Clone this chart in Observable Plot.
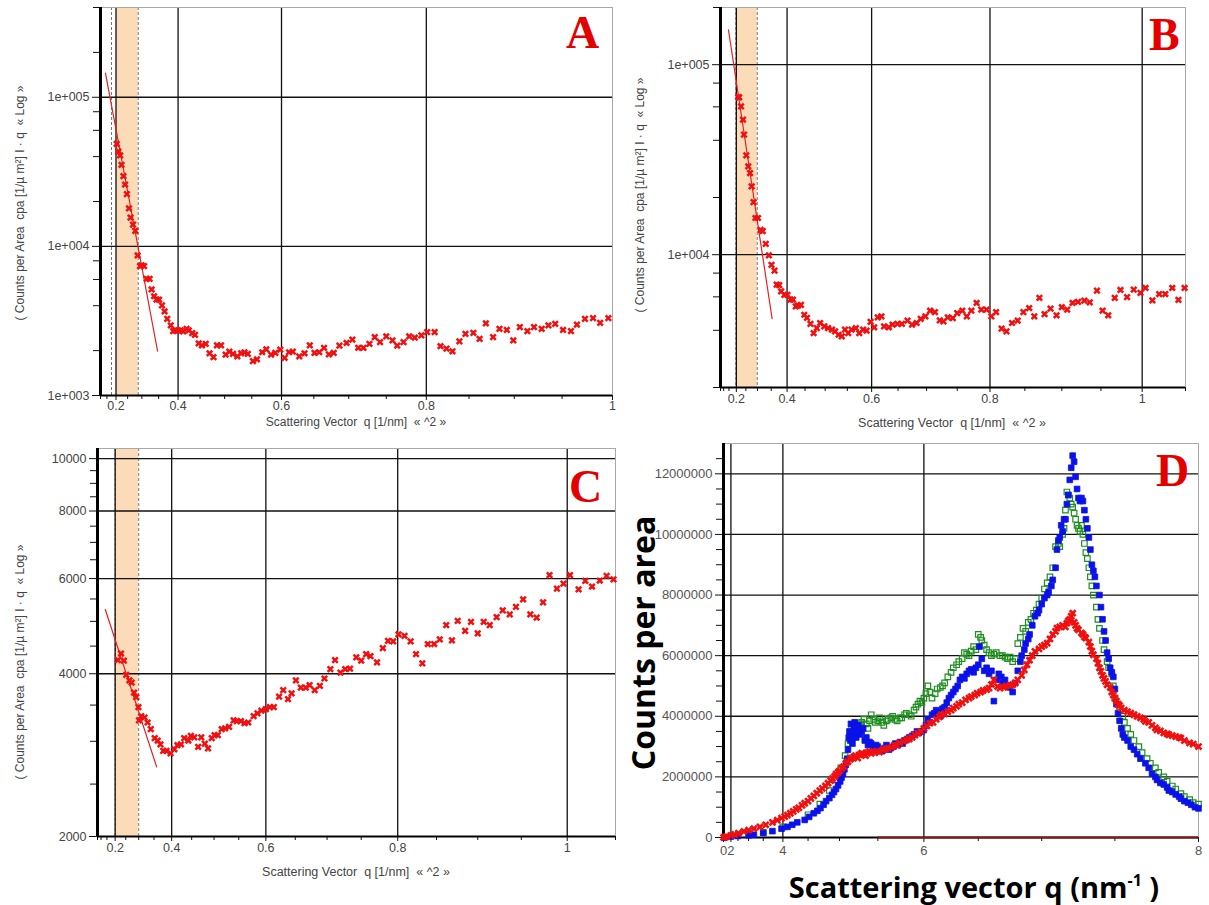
<!DOCTYPE html>
<html><head><meta charset="utf-8">
<script src="https://cdn.jsdelivr.net/npm/d3@7"></script>
<script src="https://cdn.jsdelivr.net/npm/@observablehq/plot@0.6"></script>
<style>
body{margin:0;background:#fff;}
#root{position:relative;width:1209px;height:905px;overflow:hidden;background:#fff;font-family:"Liberation Sans",Arial,sans-serif;}
.panel{position:absolute;overflow:hidden;background:#fff;}
.panel svg{position:absolute;left:0;top:0;}
.t{position:absolute;white-space:nowrap;line-height:1;transform:translate(-50%,-50%);color:#444;font-size:12.5px;}
.rot{position:absolute;white-space:nowrap;line-height:1;transform:translate(-50%,-50%) rotate(-90deg);color:#444;font-size:12px;}
.letter{position:absolute;font-family:"Liberation Serif",serif;font-weight:bold;color:#e50000;font-size:46px;line-height:1;}
.big{position:absolute;white-space:nowrap;line-height:1;font-family:"Open Sans",sans-serif;font-weight:bold;color:#000;}
</style></head>
<body><div id="root"></div>
<script>
// ---------- Panel A ----------
const qA = [0.203,0.211,0.219,0.225,0.233,0.240,0.247,0.255,0.261,0.270,0.278,0.286,0.294,0.299,0.307,0.315,0.324,0.330,0.337,0.344,0.351,0.359,0.366,0.373,0.382,0.388,0.394,0.400,0.406,0.412,0.420,0.425,0.433,0.439,0.447,0.454,0.462,0.470,0.478,0.485,0.493,0.502,0.509,0.516,0.524,0.531,0.537,0.543,0.552,0.559,0.568,0.575,0.583,0.590,0.598,0.605,0.612,0.618,0.628,0.636,0.644,0.651,0.658,0.665,0.672,0.679,0.687,0.697,0.705,0.713,0.720,0.728,0.735,0.742,0.750,0.758,0.764,0.772,0.779,0.786,0.794,0.801,0.810,0.817,0.824,0.831,0.839,0.846,0.855,0.862,0.869,0.877,0.884,0.892,0.899,0.906,0.914,0.921,0.929,0.936,0.943,0.951,0.959,0.965,0.973,0.981,0.988,0.996];
const cpaA = [48700,43300,40700,35200,29600,26000,22400,18000,15600,14000,12700,8690,7370,7450,7370,6060,6060,5140,4630,4400,4400,4020,3660,3270,2950,2700,2730,2730,2730,2690,2800,2730,2620,2550,2240,2170,2220,1920,1810,2170,2170,1880,1970,1900,1830,1920,1950,1900,1700,1750,1950,2040,1880,1930,2030,1790,1950,1970,1830,1920,2170,1930,1950,2090,1890,1930,2160,2250,2370,2090,2090,2220,2460,2280,2490,2340,2160,2280,2490,2440,2530,2660,2660,2140,2060,1980,2310,2590,2630,2400,3050,2460,2800,2750,2340,2870,2700,2870,2800,2950,3020,2750,2700,2990,3260,3300,3070,3300];
const fitA_q = [0.14, 0.347];
const fitA_v = [145000, 1980];
const bandA = [0.2, 0.288];
const dashA = [0.177, 0.288];

// ---------- Panel B ----------
const qB = [0.211,0.216,0.226,0.236,0.241,0.252,0.261,0.269,0.276,0.284,0.292,0.302,0.312,0.320,0.331,0.342,0.351,0.361,0.368,0.376,0.382,0.392,0.401,0.410,0.417,0.425,0.431,0.439,0.448,0.455,0.464,0.472,0.480,0.488,0.498,0.507,0.516,0.523,0.531,0.538,0.545,0.552,0.559,0.568,0.575,0.583,0.590,0.598,0.605,0.612,0.619,0.624,0.633,0.640,0.649,0.657,0.667,0.675,0.683,0.690,0.698,0.706,0.714,0.722,0.728,0.735,0.743,0.750,0.758,0.765,0.772,0.780,0.787,0.795,0.802,0.809,0.817,0.824,0.832,0.840,0.848,0.856,0.863,0.870,0.877,0.885,0.893,0.900,0.907,0.914,0.921,0.929,0.936,0.945,0.952,0.959,0.967,0.974,0.982,0.990,0.998,1.004,1.012,1.020,1.027,1.035,1.042,1.049];
const cpaB = [67600,67300,60400,51400,42900,33300,29200,26900,22900,18900,15600,15600,13500,13300,11400,9910,8850,8240,6950,6910,6410,6150,6150,5800,5800,5340,5400,5450,4830,4650,4320,3870,4110,4370,4190,4110,4030,3950,3790,3720,4030,3870,4030,4110,3870,4030,3980,4430,4150,4680,4730,4200,4150,4290,4320,4320,4500,4290,4370,4600,4730,5070,4990,4510,4460,4680,4640,4930,5070,4730,5070,5570,5140,5140,4730,4990,4080,3950,4370,4500,4990,5240,4730,5920,4870,5200,4800,5290,5140,5570,5640,5730,5610,6470,5070,4800,5920,6520,5980,6550,6290,6680,5750,6210,6210,6680,5790,6680];
const fitB_q = [0.146, 0.353];
const fitB_v = [152700, 4600];
const bandB = [0.2, 0.299];
const dashB = [0.197, 0.299];

// ---------- Panel C ----------
const qC = [0.214,0.229,0.242,0.252,0.265,0.274,0.283,0.291,0.299,0.301,0.309,0.320,0.330,0.340,0.352,0.361,0.369,0.377,0.386,0.397,0.407,0.415,0.424,0.432,0.442,0.448,0.456,0.465,0.472,0.480,0.487,0.495,0.501,0.508,0.516,0.523,0.531,0.540,0.546,0.554,0.561,0.568,0.578,0.585,0.592,0.600,0.607,0.614,0.623,0.630,0.638,0.644,0.651,0.659,0.667,0.673,0.681,0.689,0.696,0.705,0.712,0.720,0.727,0.734,0.743,0.750,0.757,0.763,0.772,0.780,0.787,0.794,0.801,0.809,0.817,0.824,0.832,0.839,0.847,0.854,0.862,0.869,0.876,0.885,0.892,0.900,0.907,0.914,0.922,0.929,0.937,0.944,0.952,0.960,0.967,0.974,0.981,0.989,0.996,1.003,1.012,1.019,1.026,1.034,1.041,1.048];
const cpaC = [4240,4360,4230,3980,3890,3850,3690,3620,3470,3280,3340,3320,3250,3160,3040,3010,2960,2880,2880,2850,2900,2950,2960,3040,3010,3070,3050,2930,3050,2970,2910,3040,3080,3080,3160,3170,3190,3280,3270,3270,3240,3250,3340,3380,3420,3440,3470,3470,3630,3730,3590,3680,3890,3770,3770,3810,3730,3800,3920,4080,4240,4020,4080,4090,4290,4230,4350,4310,4200,4460,4600,4590,4730,4700,4590,4350,4180,4540,4540,4630,4920,4610,5010,4800,4990,4750,4990,4920,5090,5240,5150,5320,5490,5150,5080,5420,6090,5750,5870,6090,5730,5940,5800,5950,6070,5980];
const fitC_q = [0.138, 0.358];
const fitC_v = [5260, 2690];
const bandC = [0.2, 0.300];
const dashC = [0.2, 0.300];

// ---------- Panel D (counts per area, in millions) ----------
const qD_red = [0.5,1.0,1.5,2.0,2.3,2.52,2.8,3.0,3.2,3.4,3.57,3.75,3.87,3.97,4.04,4.1,4.16,4.22,4.28,4.33,4.39,4.44,4.5,4.55,4.6,4.65,4.7,4.74,4.79,4.83,4.87,4.9,4.93,4.95,4.98,5.0,5.03,5.06,5.09,5.12,5.15,5.17,5.2,5.22,5.25,5.27,5.3,5.32,5.35,5.37,5.4,5.42,5.46,5.49,5.52,5.56,5.59,5.62,5.66,5.69,5.72,5.75,5.79,5.82,5.85,5.88,5.91,5.94,5.97,6.0,6.03,6.06,6.09,6.12,6.15,6.17,6.2,6.23,6.26,6.28,6.31,6.33,6.36,6.39,6.42,6.44,6.47,6.49,6.52,6.54,6.57,6.59,6.61,6.63,6.66,6.68,6.71,6.73,6.76,6.78,6.8,6.82,6.85,6.87,6.89,6.91,6.93,6.95,6.98,7.0,7.02,7.04,7.06,7.08,7.1,7.11,7.13,7.15,7.17,7.18,7.19,7.2,7.21,7.22,7.23,7.24,7.25,7.26,7.28,7.29,7.3,7.31,7.33,7.34,7.35,7.36,7.38,7.39,7.4,7.41,7.42,7.43,7.44,7.45,7.47,7.48,7.49,7.5,7.51,7.52,7.53,7.54,7.56,7.58,7.6,7.62,7.64,7.66,7.68,7.69,7.71,7.73,7.75,7.76,7.78,7.8,7.82,7.83,7.85,7.87,7.89,7.9,7.92,7.95,7.97,8.0];
const mD_red = [0.0,0.01,0.03,0.07,0.10,0.14,0.2,0.24,0.29,0.35,0.42,0.5,0.57,0.64,0.69,0.74,0.8,0.86,0.93,0.98,1.06,1.13,1.2,1.29,1.37,1.46,1.55,1.62,1.7,1.79,1.88,1.95,2.02,2.09,2.15,2.2,2.28,2.34,2.45,2.5,2.58,2.62,2.66,2.7,2.62,2.73,2.78,2.75,2.7,2.8,2.84,2.78,2.8,2.85,2.82,2.89,2.92,2.95,2.98,3.06,3.04,3.12,3.17,3.22,3.25,3.3,3.38,3.44,3.5,3.6,3.68,3.77,3.8,3.9,3.98,4.05,4.08,4.15,4.2,4.27,4.33,4.4,4.45,4.54,4.6,4.65,4.7,4.76,4.8,4.85,4.88,4.93,5.05,5.2,4.98,4.93,4.95,5.0,5.02,5.04,5.1,5.2,5.35,5.53,5.7,5.85,6.0,6.14,6.22,6.3,6.35,6.41,6.55,6.7,6.8,6.91,6.95,7.0,6.95,7.07,7.15,7.2,7.3,7.4,7.1,7.0,6.9,6.85,6.75,6.7,6.62,6.58,6.45,6.3,6.15,6.03,5.9,5.75,5.6,5.48,5.35,5.25,5.15,5.04,4.95,4.8,4.7,4.6,4.5,4.4,4.35,4.27,4.2,4.15,4.1,4.05,4.0,3.95,3.9,3.83,3.8,3.7,3.62,3.55,3.52,3.45,3.42,3.39,3.36,3.33,3.3,3.28,3.2,3.12,3.08,3.0];
const qD_blue = [1.0,2.0,2.5,3.0,3.2,3.5,3.75,3.97,4.1,4.2,4.3,4.44,4.52,4.6,4.66,4.71,4.76,4.8,4.85,4.89,4.92,4.95,4.98,5.01,5.03,5.05,5.07,5.09,5.11,5.12,5.13,5.14,5.15,5.16,5.17,5.18,5.19,5.2,5.21,5.22,5.23,5.24,5.25,5.26,5.28,5.3,5.32,5.34,5.36,5.38,5.4,5.42,5.44,5.46,5.48,5.5,5.53,5.55,5.58,5.6,5.63,5.65,5.68,5.7,5.73,5.75,5.78,5.8,5.83,5.85,5.88,5.9,5.93,5.95,5.98,6.0,6.02,6.04,6.06,6.08,6.1,6.12,6.14,6.16,6.18,6.2,6.22,6.24,6.26,6.28,6.3,6.32,6.34,6.36,6.38,6.4,6.42,6.44,6.46,6.48,6.5,6.51,6.53,6.55,6.57,6.59,6.61,6.63,6.65,6.67,6.69,6.7,6.72,6.74,6.76,6.78,6.8,6.82,6.84,6.85,6.87,6.88,6.9,6.91,6.93,6.95,6.97,6.98,7.0,7.02,7.04,7.05,7.07,7.08,7.1,7.11,7.12,7.13,7.14,7.15,7.16,7.17,7.18,7.19,7.2,7.21,7.22,7.23,7.24,7.25,7.26,7.27,7.28,7.29,7.3,7.31,7.32,7.33,7.34,7.35,7.36,7.37,7.38,7.4,7.41,7.42,7.43,7.44,7.45,7.46,7.47,7.48,7.49,7.5,7.51,7.52,7.53,7.54,7.55,7.56,7.58,7.6,7.62,7.64,7.66,7.69,7.71,7.73,7.75,7.76,7.78,7.8,7.82,7.83,7.85,7.87,7.89,7.9,7.92,7.94,7.96,7.98,8.0];
const mD_blue = [0.0,0.03,0.05,0.07,0.09,0.15,0.21,0.29,0.35,0.42,0.5,0.58,0.68,0.8,0.88,0.97,1.08,1.2,1.3,1.41,1.5,1.6,1.72,1.85,1.98,2.1,2.25,2.4,2.6,2.9,3.3,3.5,3.2,3.75,3.4,3.1,3.3,3.6,3.8,3.5,3.3,3.7,3.45,3.7,3.4,3.5,3.6,3.2,3.3,3.05,3.15,3.1,3.0,2.95,3.05,3.0,2.9,2.85,2.95,3.05,2.9,2.95,3.0,3.1,3.05,3.15,3.1,3.2,3.25,3.3,3.35,3.4,3.5,3.45,3.5,3.55,3.7,3.9,3.8,4.05,4.1,4.2,4.15,4.0,4.25,4.3,4.45,4.6,4.7,4.8,4.9,5.0,5.2,5.3,5.25,5.4,5.5,5.55,5.45,5.6,5.7,6.3,5.9,5.5,5.6,5.4,5.5,4.5,5.2,5.4,5.3,5.1,5.2,5.0,4.95,4.8,5.1,5.5,5.8,6.0,6.2,6.4,6.55,6.7,7.0,7.3,7.4,7.5,7.7,7.9,8.0,8.1,8.3,8.5,8.9,9.5,9.8,9.9,10.3,10.1,10.5,10.5,11.0,11.3,11.8,12.2,12.6,12.4,11.9,11.5,11.2,11.1,11.2,11.1,10.8,10.5,10.2,9.9,9.5,9.0,8.8,8.6,8.3,8.0,7.6,7.2,6.8,6.5,6.1,5.9,5.6,5.45,5.3,4.9,4.4,4.1,3.85,3.6,3.4,3.3,3.2,3.0,2.9,2.75,2.6,2.45,2.3,2.1,2.0,1.9,1.8,1.75,1.65,1.55,1.5,1.42,1.35,1.28,1.2,1.15,1.08,1.0,0.96,0.92,0.9];
const qD_green = [3.5,4.0,4.5,4.7,4.85,4.95,5.02,5.08,5.12,5.15,5.17,5.2,5.22,5.25,5.28,5.3,5.33,5.36,5.38,5.4,5.42,5.45,5.47,5.5,5.52,5.55,5.57,5.6,5.62,5.65,5.67,5.7,5.72,5.75,5.77,5.8,5.82,5.85,5.87,5.9,5.92,5.94,5.96,5.98,6.0,6.02,6.04,6.06,6.08,6.11,6.13,6.16,6.18,6.2,6.23,6.26,6.28,6.31,6.33,6.36,6.38,6.4,6.42,6.44,6.46,6.48,6.5,6.52,6.53,6.55,6.57,6.59,6.61,6.63,6.65,6.68,6.7,6.72,6.74,6.76,6.78,6.8,6.82,6.84,6.86,6.88,6.9,6.92,6.94,6.96,6.98,7.0,7.02,7.04,7.06,7.08,7.1,7.12,7.13,7.15,7.16,7.17,7.18,7.19,7.2,7.21,7.22,7.23,7.24,7.25,7.26,7.27,7.28,7.29,7.3,7.31,7.32,7.33,7.34,7.35,7.36,7.38,7.39,7.4,7.42,7.43,7.45,7.46,7.48,7.49,7.5,7.52,7.53,7.55,7.56,7.58,7.6,7.62,7.65,7.67,7.7,7.72,7.75,7.77,7.8,7.82,7.85,7.87,7.9,7.92,7.95,7.97,8.0];
const mD_green = [0.17,0.35,0.75,1.1,1.55,1.9,2.3,2.7,3.1,3.4,3.6,3.55,3.5,3.65,3.75,3.8,3.9,3.75,3.6,3.85,4.05,3.9,3.8,3.85,3.95,3.8,3.7,3.85,3.9,3.95,4.0,3.9,3.85,3.95,3.95,4.05,4.1,4.05,4.0,4.2,4.3,4.4,4.5,4.45,4.6,4.75,5.0,4.8,4.6,4.75,4.9,4.95,5.0,5.1,5.3,5.45,5.6,5.7,5.8,5.9,6.1,6.05,6.0,6.15,6.3,6.2,6.7,6.6,6.5,6.35,6.2,6.1,6.0,6.05,6.1,6.0,6.0,5.95,5.9,5.95,5.8,5.9,6.4,6.6,6.9,6.8,7.1,7.2,7.4,7.5,7.7,7.9,8.2,8.4,8.6,8.9,9.6,9.7,9.6,10.0,10.2,10.8,11.4,11.3,11.2,11.0,10.9,10.7,10.5,10.3,10.2,10.1,10.3,10.0,9.7,9.4,9.2,8.9,8.6,8.3,8.0,7.6,7.2,6.9,6.5,6.2,5.8,5.6,5.4,5.0,4.6,4.4,4.2,4.0,3.8,3.6,3.4,3.2,3.0,2.8,2.6,2.45,2.3,2.15,2.0,1.85,1.7,1.6,1.45,1.35,1.25,1.15,1.1];
const zeroLineD = [{q1: 5.5, q2: 8, m: 0}];

// ---------- Tick values ----------
const qMajor = [0.2, 0.4, 0.6, 0.8, 1];
const qMinorA = [0.1,0.15,0.25,0.3,0.35,0.45,0.5,0.55,0.65,0.7,0.75,0.85,0.9,0.95];
const qMinorBC = [0.05,0.1,0.15,0.25,0.3,0.35,0.45,0.5,0.55,0.65,0.7,0.75,0.85,0.9,0.95,1.05];
const yMajorA = [1e3, 1e4, 1e5];
const yMinorA = [2e3,4e3,6e3,8e3,2e4,4e4,6e4,8e4,2e5,4e5];
const yMajorB = [1e4, 1e5];
const yMinorB = [2e3,4e3,6e3,8e3,2e4,4e4,6e4,8e4,2e5];
const yMajorC = [2000, 4000, 6000, 8000, 10000];
const yMinorC = [2500,3000,3500,4500,5000,5500,6500,7000,7500,8500,9000,9500];
const qMajorD = [0, 2, 4, 6, 8];
const qMinorD = [0.5,1,1.5,2.5,3,3.5,4.5,5,5.5,6.5,7,7.5];
const yMajorD = [0,2e6,4e6,6e6,8e6,10e6,12e6];
const yMinorD = [5e5,1e6,1.5e6,2.5e6,3e6,3.5e6,4.5e6,5e6,5.5e6,6.5e6,7e6,7.5e6,8.5e6,9e6,9.5e6,10.5e6,11e6,11.5e6,12.5e6];

const zip = (xs, ys, k = 1) => xs.slice(0, Math.min(xs.length, ys.length)).map((q, i) => ({q, v: ys[i] * k}));
const fmtLog = d => "1e+00" + Math.round(Math.log10(d));
const fmtQ = d => (d === 1 ? "1" : String(d));
const none = () => "";
const RED = "#f01010";

function logPanel(o) {
  return Plot.plot({
    width: o.w, height: o.h,
    marginLeft: o.ml, marginRight: o.mr, marginTop: o.mt, marginBottom: o.mb,
    x: {type: "pow", exponent: 2, domain: o.xd},
    y: {type: "log", domain: o.yd},
    style: {fontFamily: "Liberation Sans, Arial, sans-serif", fontSize: "12.5px", background: "transparent", color: "#333"},
    marks: [
      Plot.rect([{a: o.band[0], b: o.band[1]}], {x1: "a", x2: "b", fill: "#fcdcb8"}),
      Plot.ruleX(o.dash, {stroke: "#777", strokeDasharray: "3,2", strokeWidth: 1}),
      Plot.gridX(o.gx, {stroke: "#111", strokeOpacity: 1, strokeWidth: 1.3}),
      Plot.gridY(o.gy, {stroke: "#111", strokeOpacity: 1, strokeWidth: 1.3}),
      Plot.frame({stroke: "#a8a8a8"}),
      Plot.axisY(o.yMaj, {tickSize: 8, tickPadding: 3, tickFormat: o.yfmt, label: null, fill: "#444", stroke: "#111"}),
      Plot.axisY(o.yMin, {tickSize: 7, tickFormat: none, label: null, stroke: "#111"}),
      Plot.axisX(qMajor, {tickSize: 5, tickPadding: o.tp ?? 2, tickFormat: fmtQ, label: null, fill: "#444", stroke: "#111"}),
      Plot.axisX(o.xMin, {tickSize: 4, tickFormat: none, label: null, stroke: "#111"}),
      Plot.ruleX([o.xd[0]], {stroke: "#000", strokeWidth: 3}),
      Plot.ruleY([o.yd[0]], {stroke: "#000", strokeWidth: 2}),
      Plot.line(zip(o.fq, o.fv), {x: "q", y: "v", stroke: "#e52020", strokeWidth: 1.2}),
      Plot.dot(zip(o.q, o.v), {x: "q", y: "v", symbol: "times", r: 2.6, stroke: RED, strokeWidth: 2.5})
    ]
  });
}

const root = document.getElementById("root");
function addPanel(left, top, w, h, svg, html) {
  const d = document.createElement("div");
  d.className = "panel";
  d.style.left = left + "px"; d.style.top = top + "px";
  d.style.width = w + "px"; d.style.height = h + "px";
  d.appendChild(svg);
  d.insertAdjacentHTML("beforeend", html);
  root.appendChild(d);
}
const yTitle = "( Counts per Area&nbsp; cpa [1/µ m²] I · q&nbsp; « Log »";
const xTitle = "Scattering Vector&nbsp; q [1/nm]&nbsp; « ^2 »";

// A
addPanel(0, 0, 620, 431, logPanel({
  w: 620, h: 431, ml: 100, mr: 8, mt: 7, mb: 36, tp: 1,
  xd: [0.1, 1.0], yd: [1000, 400000],
  band: bandA, dash: dashA, gx: [0.2, 0.4, 0.6, 0.8], gy: [1e4, 1e5],
  yMaj: yMajorA, yMin: yMinorA, yfmt: fmtLog, xMin: qMinorA,
  fq: fitA_q, fv: fitA_v, q: qA, v: cpaA
}), `<div class="rot" style="left:20px;top:203px">${yTitle}</div>
<div class="t" style="left:356px;top:422px;font-size:12px">${xTitle}</div>
<div class="letter" style="left:566px;top:10px">A</div>`);

// B
addPanel(620, 0, 589, 432, logPanel({
  w: 589, h: 432, ml: 100, mr: 24, mt: 7, mb: 45,
  xd: [0.05, 1.05], yd: [2000, 200000],
  band: bandB, dash: dashB, gx: [0.2, 0.4, 0.6, 0.8, 1], gy: [1e4, 1e5],
  yMaj: yMajorB, yMin: yMinorB, yfmt: fmtLog, xMin: qMinorBC,
  fq: fitB_q, fv: fitB_v, q: qB, v: cpaB
}), `<div class="rot" style="left:20px;top:195px">${yTitle}</div>
<div class="t" style="left:332px;top:423px">${xTitle}</div>
<div class="letter" style="left:529px;top:12px">B</div>`);

// C
addPanel(0, 431, 620, 474, logPanel({
  w: 620, h: 427, ml: 97, mr: 5, mt: 17, mb: 22,
  xd: [0.05, 1.05], yd: [2000, 10440],
  band: bandC, dash: dashC, gx: [0.2, 0.4, 0.6, 0.8, 1], gy: [4000, 6000, 8000, 10000],
  yMaj: yMajorC, yMin: yMinorC, yfmt: d => String(d), xMin: qMinorBC,
  fq: fitC_q, fv: fitC_v, q: qC, v: cpaC
}), `<div class="rot" style="left:20px;top:231px">${yTitle}</div>
<div class="t" style="left:356px;top:441px">${xTitle}</div>
<div class="letter" style="left:569px;top:33px">C</div>`);

// D
const plotD = Plot.plot({
  width: 589, height: 426, marginLeft: 103, marginRight: 11, marginTop: 11, marginBottom: 21,
  x: {type: "pow", exponent: 3, domain: [0, 8]},
  y: {domain: [0, 13e6]},
  style: {fontFamily: "Liberation Sans, Arial, sans-serif", fontSize: "13px", background: "transparent", color: "#333"},
  marks: [
    Plot.gridX([2, 4, 6], {stroke: "#111", strokeOpacity: 1, strokeWidth: 1.3}),
    Plot.gridY(yMajorD.slice(1), {stroke: "#111", strokeOpacity: 1, strokeWidth: 1.3}),
    Plot.frame({stroke: "#a8a8a8"}),
    Plot.axisY(yMajorD, {tickSize: 8, tickPadding: 3, tickFormat: d => String(d), label: null, fill: "#555", stroke: "#111"}),
    Plot.axisY(yMinorD, {tickSize: 7, tickFormat: none, label: null, stroke: "#111"}),
    Plot.axisX(qMajorD, {tickSize: 5, tickPadding: 3, tickFormat: d => String(d), label: null, fill: "#555", stroke: "#111"}),
    Plot.axisX(qMinorD, {tickSize: 4, tickFormat: none, label: null, stroke: "#111"}),
    Plot.ruleX([0], {stroke: "#000", strokeWidth: 3}),
    Plot.ruleY([0], {stroke: "#000", strokeWidth: 2}),
    Plot.ruleY(zeroLineD, {y: "m", x1: "q1", x2: "q2", stroke: "#8a1515", strokeWidth: 2}),
    Plot.dot(zip(qD_green, mD_green, 1e6), {x: "q", y: "v", symbol: "square", r: 3.1, stroke: "#1f8f1f", fill: "none", strokeWidth: 1.2}),
    Plot.dot(zip(qD_blue, mD_blue, 1e6), {x: "q", y: "v", symbol: "square", r: 3.2, fill: "#0b12e8", stroke: "#0b12e8", strokeWidth: 0.8}),
    Plot.dot(zip(qD_red, mD_red, 1e6), {x: "q", y: "v", symbol: "times", r: 2.8, stroke: RED, strokeWidth: 2.6})
  ]
});
addPanel(620, 432, 589, 473, plotD, `<div class="letter" style="left:536px;top:16px">D</div>`);

root.insertAdjacentHTML("beforeend",
  `<div class="big" style="left:643px;top:643px;font-size:32px;transform:translate(-50%,-50%) rotate(-90deg)">Counts per area</div>
   <div class="big" style="left:974px;top:886px;font-size:29px;transform:translate(-50%,-50%)">Scattering vector q (nm<sup style="font-size:16px;vertical-align:12px">-1</sup> )</div>`);
</script>
</body></html>
